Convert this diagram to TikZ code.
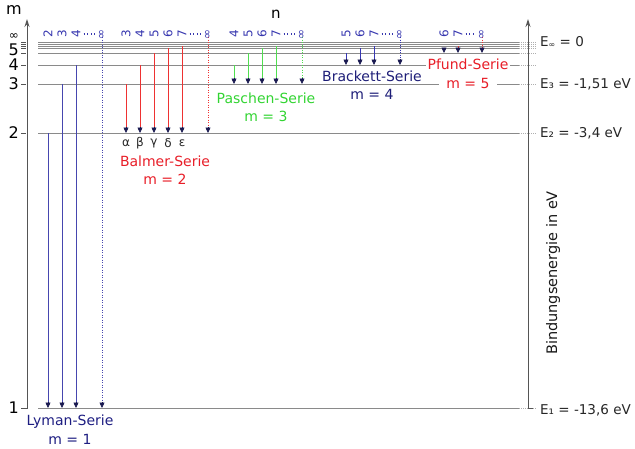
\documentclass[tikz,border=0pt]{standalone}
\usepackage{fontspec}
\setmainfont{DejaVu Sans}
\usetikzlibrary{arrows.meta}
\definecolor{lvl}{RGB}{138,138,138}
\definecolor{lvlext}{RGB}{175,175,175}
\definecolor{axc}{RGB}{85,85,85}
\definecolor{tipc}{RGB}{25,25,80}
\definecolor{lyc}{RGB}{70,70,175}
\definecolor{lylab}{RGB}{30,30,130}
\definecolor{bac}{RGB}{238,50,50}
\definecolor{balab}{RGB}{232,30,40}
\definecolor{pac}{RGB}{80,222,80}
\definecolor{palab}{RGB}{50,212,50}
\definecolor{brc}{RGB}{55,55,180}
\definecolor{brlab}{RGB}{30,30,120}
\definecolor{numc}{RGB}{55,55,175}
\tikzset{
 trans/.style={line width=1pt, shorten >=5pt},
 transdot/.style={trans, dash pattern=on 1pt off 1.5pt},
 tipline/.style={draw=tipc, fill=tipc, line width=0.6pt, -{Triangle[length=5.5pt,width=5pt]}},
 levelline/.style={draw=lvl, line width=0.9pt},
 levelext/.style={draw=lvlext, line width=0.8pt, dash pattern=on 1pt off 1pt},
 axisline/.style={draw=axc, line width=0.9pt},
 numlab/.style={rotate=90, text=numc, font=\fontsize{12}{12}\selectfont, inner sep=0pt},
 dotsline/.style={draw=numc, line width=1.2pt, dash pattern=on 1pt off 2.6pt},
 serlab/.style={font=\fontsize{14}{16}\selectfont, inner sep=1pt},
 elab/.style={anchor=west, font=\fontsize{13.5}{14}\selectfont, inner sep=0pt, text=black!85},
 mlab/.style={anchor=east, font=\fontsize{16}{17}\selectfont, inner sep=0pt},
 greek/.style={font=\fontsize{12}{13}\selectfont, inner sep=0pt, text=black!85},
}
\begin{document}
\begin{tikzpicture}[x=1pt,y=-1pt]
\useasboundingbox (0,0) rectangle (635,448);
% ---------- levels
\foreach \nm/\yy in {1/408,2/133,3/84,4/65,5/53,6/48,7/46,8/44,inf/42}{
  \coordinate (L\nm l) at (38,\yy);
  \coordinate (L\nm r) at (519,\yy);
  \coordinate (L\nm x) at (537,\yy);
  \coordinate (L\nm t) at (21,\yy);
  \coordinate (L\nm a) at (26,\yy);
  \draw[levelline] (L\nm l) -- (L\nm r);
  \draw[levelext] (L\nm r) -- (L\nm x);
  \draw[axisline, line width=0.7pt] (L\nm t) -- (L\nm a);
}
% ---------- axes
\coordinate (axLb) at (22,408);
\coordinate (axL0) at (27,408);
\coordinate (axLt) at (27,19);
\coordinate (axRb) at (533,408);
\coordinate (axR0) at (528,408);
\coordinate (axRt) at (528,19);
\draw[axisline, -{Stealth[length=8pt,width=5pt]}] (axLb) -- (axL0) -- (axLt);
\draw[axisline, -{Stealth[length=8pt,width=5pt]}] (axRb) -- (axR0) -- (axRt);
% ---------- transition lines
\foreach \x/\ys/\nm in {48/133/2,62/84/3,76/65/4}{
  \coordinate (ly\nm s) at (\x,\ys); \coordinate (ly\nm e) at (\x,408);
  \draw[trans, draw=lyc] (ly\nm s) -- (ly\nm e);
}
\coordinate (lyis) at (102,37); \coordinate (lyie) at (102,408);
\draw[transdot, draw=lyc] (lyis) -- (lyie);
\foreach \x/\ys/\nm in {126/84/3,140/65/4,154/53/5,168/48/6,182/46/7}{
  \coordinate (ba\nm s) at (\x,\ys); \coordinate (ba\nm e) at (\x,133);
  \draw[trans, draw=bac] (ba\nm s) -- (ba\nm e);
}
\coordinate (bais) at (208,37); \coordinate (baie) at (208,133);
\draw[transdot, draw=bac] (bais) -- (baie);
\foreach \x/\ys/\nm in {234/65/4,248/53/5,262/48/6,276/46/7}{
  \coordinate (pa\nm s) at (\x,\ys); \coordinate (pa\nm e) at (\x,84);
  \draw[trans, draw=pac] (pa\nm s) -- (pa\nm e);
}
\coordinate (pais) at (302,37); \coordinate (paie) at (302,84);
\draw[transdot, draw=pac] (pais) -- (paie);
\foreach \x/\ys/\nm in {346/53/5,360/48/6,374/46/7}{
  \coordinate (br\nm s) at (\x,\ys); \coordinate (br\nm e) at (\x,65);
  \draw[trans, draw=brc] (br\nm s) -- (br\nm e);
}
\coordinate (bris) at (400,37); \coordinate (brie) at (400,65);
\draw[transdot, draw=brc] (bris) -- (brie);
\foreach \x/\ys/\nm in {444/48/6,458/46/7}{
  \coordinate (pf\nm s) at (\x,\ys); \coordinate (pf\nm e) at (\x,53);
  \draw[trans, draw=bac, shorten >=3pt] (pf\nm s) -- (pf\nm e);
}
\coordinate (pfis) at (482,37); \coordinate (pfie) at (482,53);
\draw[transdot, draw=bac, shorten >=3pt] (pfis) -- (pfie);
% ---------- arrow tips
\foreach \e in {ly2e,ly3e,ly4e,lyie,ba3e,ba4e,ba5e,ba6e,ba7e,baie,pa4e,pa5e,pa6e,pa7e,paie,br5e,br6e,br7e,brie}{
  \draw[tipline] ([yshift=6pt]\e) -- (\e);
}
\foreach \e in {pf6e,pf7e,pfie}{
  \draw[tipline] ([yshift=5.5pt]\e) -- (\e);
}
% ---------- top n-labels
\foreach \x/\nm/\pre/\lab in {48/2/ly/2,62/3/ly/3,76/4/ly/4,102/inf/ly/∞,
  126/3/ba/3,140/4/ba/4,154/5/ba/5,168/6/ba/6,182/7/ba/7,208/inf/ba/∞,
  234/4/pa/4,248/5/pa/5,262/6/pa/6,276/7/pa/7,302/inf/pa/∞,
  346/5/br/5,360/6/br/6,374/7/br/7,400/inf/br/∞,
  444/6/pf/6,458/7/pf/7,482/inf/pf/∞}{
  \node[numlab] (\pre n\nm) at (\x,34) {\lab};
}
\foreach \pre/\last in {ly/4,ba/7,pa/7,br/7,pf/7}{
  \path (\pre n\last.south) ++(3,0) coordinate (\pre d1) (\pre ninf.north) ++(-3,0) coordinate (\pre d2);
  \draw[dotsline] (\pre d1) -- (\pre d2);
}
% ---------- greek letters
\foreach \x/\nm/\gr in {126/3/α,140/4/β,154/5/γ,168/6/δ,182/7/ε}{
  \node[greek] (bag\nm) at (\x,143) {\gr};
}
% ---------- axis labels
\node[font=\fontsize{16}{17}\selectfont] (mhead) at (14,10) {m};
\node[font=\fontsize{15}{16}\selectfont] (nhead) at (276,14) {n};
\node[mlab, font=\fontsize{12}{12}\selectfont] (tinf) at (19,37) {∞};
\node[mlab] (t5) at (19,50) {5};
\node[mlab] (t4) at (19,65) {4};
\node[mlab] (t3) at (19,84) {3};
\node[mlab] (t2) at (19,133) {2};
\node[mlab] (t1) at (19,408) {1};
\node[elab] (Einf) at (540,42) {E\raisebox{-0.25ex}{\fontsize{8}{8}\selectfont ∞} = 0};
\node[elab] (E3) at (540,84) {E₃ = -1,51 eV};
\node[elab] (E2) at (540,133) {E₂ = -3,4 eV};
\node[elab] (E1) at (540,410) {E₁ = -13,6 eV};
\node[rotate=90, font=\fontsize{14.5}{15}\selectfont, text=black!90] (bind) at (553,273) {Bindungsenergie in eV};
% ---------- series names
\node[serlab, text=lylab] (lyname) at (70,422) {Lyman-Serie};
\node[serlab, text=lylab] (lym) at (70,439) {m = 1};
\node[serlab, text=balab] (baname) at (165,161) {Balmer-Serie};
\node[serlab, text=balab] (bam) at (165,179) {m = 2};
\node[serlab, text=palab] (paname) at (266,98) {Paschen-Serie};
\node[serlab, text=palab] (pam) at (266,116) {m = 3};
\node[serlab, text=brlab] (brname) at (372,76) {Brackett-Serie};
\node[serlab, text=brlab] (brm) at (372,94) {m = 4};
\node[serlab, text=balab, fill=white, inner xsep=2pt] (pfname) at (468,64) {Pfund-Serie};
\node[serlab, text=balab, fill=white, inner xsep=7pt] (pfm) at (468,83) {m = 5};
\end{tikzpicture}
\end{document}
